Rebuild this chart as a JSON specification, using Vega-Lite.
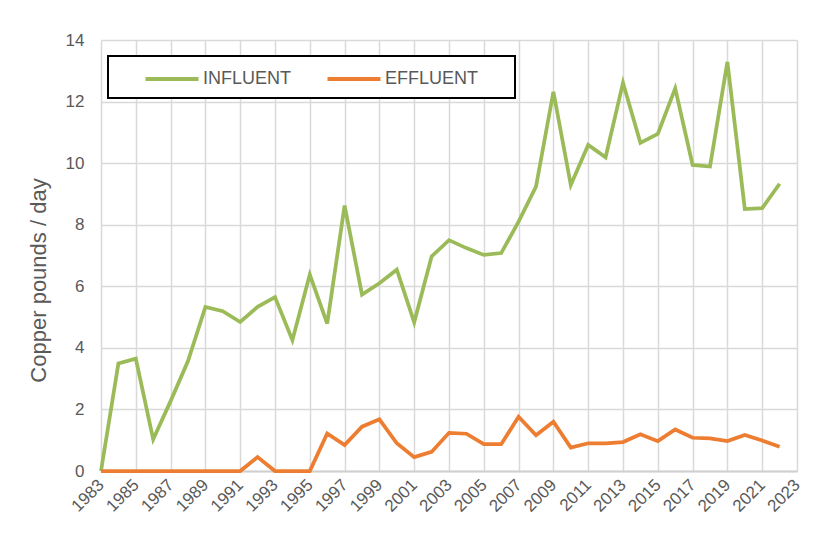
{
  "$schema": "https://vega.github.io/schema/vega-lite/v6.json",
  "width": 696,
  "height": 431,
  "autosize": "none",
  "padding": {"left": 101, "top": 40, "right": 38, "bottom": 86},
  "background": "white",
  "config": {
    "font": "Liberation Sans",
    "view": {"stroke": null}
  },
  "data": {"values": [
    {"year":1983,"series":"INFLUENT","value":0},
    {"year":1984,"series":"INFLUENT","value":3.49},
    {"year":1985,"series":"INFLUENT","value":3.65},
    {"year":1986,"series":"INFLUENT","value":1.03},
    {"year":1987,"series":"INFLUENT","value":2.27},
    {"year":1988,"series":"INFLUENT","value":3.57},
    {"year":1989,"series":"INFLUENT","value":5.33},
    {"year":1990,"series":"INFLUENT","value":5.19},
    {"year":1991,"series":"INFLUENT","value":4.84},
    {"year":1992,"series":"INFLUENT","value":5.33},
    {"year":1993,"series":"INFLUENT","value":5.65},
    {"year":1994,"series":"INFLUENT","value":4.25},
    {"year":1995,"series":"INFLUENT","value":6.38},
    {"year":1996,"series":"INFLUENT","value":4.79},
    {"year":1997,"series":"INFLUENT","value":8.62},
    {"year":1998,"series":"INFLUENT","value":5.73},
    {"year":1999,"series":"INFLUENT","value":6.1},
    {"year":2000,"series":"INFLUENT","value":6.54},
    {"year":2001,"series":"INFLUENT","value":4.83},
    {"year":2002,"series":"INFLUENT","value":6.97},
    {"year":2003,"series":"INFLUENT","value":7.5},
    {"year":2004,"series":"INFLUENT","value":7.24},
    {"year":2005,"series":"INFLUENT","value":7.02},
    {"year":2006,"series":"INFLUENT","value":7.08},
    {"year":2007,"series":"INFLUENT","value":8.1},
    {"year":2008,"series":"INFLUENT","value":9.24},
    {"year":2009,"series":"INFLUENT","value":12.32},
    {"year":2010,"series":"INFLUENT","value":9.29},
    {"year":2011,"series":"INFLUENT","value":10.59},
    {"year":2012,"series":"INFLUENT","value":10.19},
    {"year":2013,"series":"INFLUENT","value":12.61},
    {"year":2014,"series":"INFLUENT","value":10.66},
    {"year":2015,"series":"INFLUENT","value":10.95},
    {"year":2016,"series":"INFLUENT","value":12.43},
    {"year":2017,"series":"INFLUENT","value":9.94},
    {"year":2018,"series":"INFLUENT","value":9.89},
    {"year":2019,"series":"INFLUENT","value":13.29},
    {"year":2020,"series":"INFLUENT","value":8.51},
    {"year":2021,"series":"INFLUENT","value":8.54},
    {"year":2022,"series":"INFLUENT","value":9.33},
    {"year":1983,"series":"EFFLUENT","value":0},
    {"year":1984,"series":"EFFLUENT","value":0},
    {"year":1985,"series":"EFFLUENT","value":0},
    {"year":1986,"series":"EFFLUENT","value":0},
    {"year":1987,"series":"EFFLUENT","value":0},
    {"year":1988,"series":"EFFLUENT","value":0},
    {"year":1989,"series":"EFFLUENT","value":0},
    {"year":1990,"series":"EFFLUENT","value":0},
    {"year":1991,"series":"EFFLUENT","value":0},
    {"year":1992,"series":"EFFLUENT","value":0.45},
    {"year":1993,"series":"EFFLUENT","value":0},
    {"year":1994,"series":"EFFLUENT","value":0},
    {"year":1995,"series":"EFFLUENT","value":0},
    {"year":1996,"series":"EFFLUENT","value":1.22},
    {"year":1997,"series":"EFFLUENT","value":0.84},
    {"year":1998,"series":"EFFLUENT","value":1.44},
    {"year":1999,"series":"EFFLUENT","value":1.68},
    {"year":2000,"series":"EFFLUENT","value":0.9},
    {"year":2001,"series":"EFFLUENT","value":0.45},
    {"year":2002,"series":"EFFLUENT","value":0.62},
    {"year":2003,"series":"EFFLUENT","value":1.24},
    {"year":2004,"series":"EFFLUENT","value":1.21},
    {"year":2005,"series":"EFFLUENT","value":0.87},
    {"year":2006,"series":"EFFLUENT","value":0.87},
    {"year":2007,"series":"EFFLUENT","value":1.76},
    {"year":2008,"series":"EFFLUENT","value":1.16},
    {"year":2009,"series":"EFFLUENT","value":1.6},
    {"year":2010,"series":"EFFLUENT","value":0.76},
    {"year":2011,"series":"EFFLUENT","value":0.9},
    {"year":2012,"series":"EFFLUENT","value":0.9},
    {"year":2013,"series":"EFFLUENT","value":0.94},
    {"year":2014,"series":"EFFLUENT","value":1.19},
    {"year":2015,"series":"EFFLUENT","value":0.97},
    {"year":2016,"series":"EFFLUENT","value":1.35},
    {"year":2017,"series":"EFFLUENT","value":1.08},
    {"year":2018,"series":"EFFLUENT","value":1.06},
    {"year":2019,"series":"EFFLUENT","value":0.97},
    {"year":2020,"series":"EFFLUENT","value":1.17},
    {"year":2021,"series":"EFFLUENT","value":0.99},
    {"year":2022,"series":"EFFLUENT","value":0.79}
  ]},
  "encoding": {
    "x": {
      "field": "year", "type": "quantitative",
      "scale": {"domain": [1983, 2023], "nice": false, "zero": false},
      "axis": {
        "title": null,
        "values": [1983,1985,1987,1989,1991,1993,1995,1997,1999,2001,2003,2005,2007,2009,2011,2013,2015,2017,2019,2021,2023],
        "format": "d",
        "labelAngle": -45,
        "labelAlign": "right",
        "labelBaseline": "middle",
        "labelPadding": 11,
        "labelFontSize": 17,
        "labelColor": "#595959",
        "labelOverlap": false,
        "labelFlush": false,
        "ticks": false,
        "domain": true,
        "domainColor": "#D0D0D0",
        "domainWidth": 2,
        "grid": true,
        "gridColor": "#D9D9D9",
        "gridWidth": 1.5
      }
    },
    "y": {
      "field": "value", "type": "quantitative",
      "scale": {"domain": [0, 14], "nice": false},
      "axis": {
        "title": "Copper pounds / day",
        "titleFontSize": 22,
        "titleFontWeight": "normal",
        "titleColor": "#595959",
        "titlePadding": 15,
        "titleY": 240,
        "values": [0,2,4,6,8,10,12,14],
        "labelFontSize": 17,
        "labelColor": "#595959",
        "labelPadding": 17,
        "ticks": false,
        "domain": false,
        "grid": true,
        "gridColor": "#D9D9D9",
        "gridWidth": 1.5
      }
    },
    "color": {
      "field": "series", "type": "nominal",
      "scale": {"domain": ["INFLUENT", "EFFLUENT"], "range": ["#9BBB59", "#ED7D31"]},
      "legend": {
        "title": null,
        "orient": "none",
        "legendX": 7,
        "legendY": 16,
        "direction": "horizontal",
        "padding": 10,
        "symbolType": "M-2.5,0L2.5,0",
        "symbolSize": 449,
        "symbolStrokeWidth": 4,
        "symbolOffset": 41,
        "labelFontSize": 18,
        "labelColor": "#595959",
        "labelOffset": 18,
        "labelExpr": "datum.label == 'EFFLUENT' ? datum.label + '\u2800\u2800' : datum.label",
        "columnPadding": 8,
        "encode": {
          "legend": {
            "update": {
              "fill": {"value": "white"},
              "stroke": {"value": "black"},
              "strokeWidth": {"value": 2}
            }
          }
        }
      }
    }
  },
  "layer": [
    {"transform": [{"filter": "datum.series === 'INFLUENT'"}], "mark": {"type": "line", "strokeWidth": 3.75}},
    {"transform": [{"filter": "datum.series === 'EFFLUENT'"}], "mark": {"type": "line", "strokeWidth": 3.75}}
  ]
}
